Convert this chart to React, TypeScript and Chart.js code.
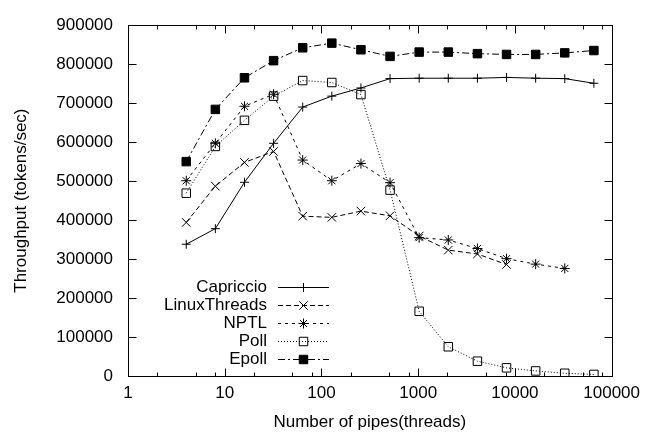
import React, { useEffect, useRef } from 'react';
import { Chart, registerables } from 'chart.js';
import { drawPoint } from 'chart.js/helpers';

Chart.register(...registerables);

// ---- data ----
const PIPES = [4, 8, 16, 32, 64, 128, 256, 512, 1024, 2048, 4096, 8192, 16384, 32768, 65536];
const CAPRICCIO = [338000, 378000, 497000, 597000, 690000, 718000, 739000, 763000, 764000, 764000, 764000, 766000, 764000, 763000, 751000];
const LINUX_THREADS = [394000, 487000, 548000, 576000, 410000, 407000, 423000, 411000, 359000, 323000, 313000, 286000];
const NPTL = [501000, 597000, 692000, 723000, 554000, 501000, 545000, 496000, 355000, 349000, 327000, 301000, 287000, 276000];
const POLL = [469000, 589000, 656000, 718000, 758000, 753000, 722000, 477000, 166000, 75000, 38000, 21000, 13000, 7000, 4000];
const EPOLL = [550000, 684000, 765000, 809000, 842000, 854000, 837000, 820000, 831000, 831000, 827000, 825000, 825000, 829000, 835000];

const SERIES_LABELS = ['Capriccio', 'LinuxThreads', 'NPTL', 'Poll', 'Epoll'];
const X_TICKS = [1, 10, 100, 1000, 10000, 100000];
const Y_TICKS = [0, 100000, 200000, 300000, 400000, 500000, 600000, 700000, 800000, 900000];
const X_MINOR_MULT = [2, 5, 8];

const FONT = '"Liberation Sans", Arial, Helvetica, sans-serif';

const toPoints = (vals: number[]) => vals.map((y, i) => ({ x: PIPES[i], y }));

const framePlugin = {
  id: 'frame',
  afterDatasetsDraw(chart: any) {
    const { ctx, chartArea: a, scales } = chart;
    const xs = scales.x;
    const ys = scales.y;
    const L = Math.round(a.left) + 0.5;
    const R = Math.round(a.right) + 0.5;
    const T = Math.round(a.top) + 0.5;
    const B = Math.round(a.bottom) + 0.5;
    ctx.save();
    ctx.strokeStyle = '#000';
    ctx.lineWidth = 1;
    ctx.setLineDash([]);
    ctx.beginPath();
    for (const v of Y_TICKS) {
      const y = Math.round(ys.getPixelForValue(v)) + 0.5;
      ctx.moveTo(L, y); ctx.lineTo(L + 8, y);
      ctx.moveTo(R, y); ctx.lineTo(R - 8, y);
    }
    for (const d of X_TICKS) {
      const x = Math.round(xs.getPixelForValue(d)) + 0.5;
      ctx.moveTo(x, B); ctx.lineTo(x, B - 8);
      ctx.moveTo(x, T); ctx.lineTo(x, T + 8);
      for (const m of X_MINOR_MULT) {
        const v = d * m;
        if (v >= 100000) continue;
        const xm = Math.round(xs.getPixelForValue(v)) + 0.5;
        ctx.moveTo(xm, B); ctx.lineTo(xm, B - 4);
        ctx.moveTo(xm, T); ctx.lineTo(xm, T + 4);
      }
    }
    ctx.stroke();
    ctx.strokeRect(L, T, R - L, B - T);
    ctx.restore();
  },
};

const legendPlugin = {
  id: 'customLegend',
  afterDraw(chart: any) {
    const { ctx } = chart;
    ctx.save();
    ctx.font = `17px ${FONT}`;
    ctx.fillStyle = '#000';
    ctx.textAlign = 'right';
    ctx.textBaseline = 'middle';
    chart.data.datasets.forEach((ds: any, i: number) => {
      const y = 287 + i * 18;
      ctx.fillStyle = '#000';
      ctx.fillText(ds.label, 267, y);
      ctx.save();
      ctx.strokeStyle = '#000';
      ctx.lineWidth = 1;
      ctx.setLineDash(ds.borderDash || []);
      ctx.beginPath();
      ctx.moveTo(278, y + 0.5);
      ctx.lineTo(329, y + 0.5);
      ctx.stroke();
      ctx.setLineDash([]);
      ctx.fillStyle = ds.pointBackgroundColor;
      ctx.strokeStyle = '#000';
      ctx.lineWidth = 1;
      drawPoint(ctx, { pointStyle: ds.pointStyle, radius: ds.pointRadius, rotation: 0, borderWidth: 1 } as any, 303.5, y + 0.5);
      ctx.restore();
    });
    ctx.restore();
  },
};

export default function App() {
  const ref = useRef<HTMLCanvasElement>(null);
  useEffect(() => {
    if (!ref.current) return;
    Chart.defaults.font.family = FONT;
    Chart.defaults.font.size = 17;
    Chart.defaults.color = '#000';
    const common = { borderColor: '#000', borderWidth: 1, pointBorderColor: '#000', pointBorderWidth: 1, fill: false, tension: 0 };
    const chart = new Chart(ref.current, {
      type: 'line',
      data: {
        datasets: [
          { ...common, label: SERIES_LABELS[0], data: toPoints(CAPRICCIO), borderDash: [], pointStyle: 'cross', pointRadius: 4.5, pointBackgroundColor: 'rgba(0,0,0,0)' },
          { ...common, label: SERIES_LABELS[1], data: toPoints(LINUX_THREADS), borderDash: [5, 3], pointStyle: 'crossRot', pointRadius: 6, pointBackgroundColor: 'rgba(0,0,0,0)' },
          { ...common, label: SERIES_LABELS[2], data: toPoints(NPTL), borderDash: [3, 4], pointStyle: 'star', pointRadius: 5, pointBackgroundColor: 'rgba(0,0,0,0)' },
          { ...common, label: SERIES_LABELS[3], data: toPoints(POLL), borderDash: [1, 2], pointStyle: 'rect', pointRadius: 6, pointBackgroundColor: 'rgba(0,0,0,0)' },
          { ...common, label: SERIES_LABELS[4], data: toPoints(EPOLL), borderDash: [7, 3, 2, 3], pointStyle: 'rect', pointRadius: 6, pointBackgroundColor: '#000' },
        ] as any,
      },
      options: {
        animation: false,
        responsive: false,
        layout: { padding: { top: 14, right: 30, left: 0, bottom: 0 } },
        plugins: { legend: { display: false }, tooltip: { enabled: false } },
        scales: {
          x: {
            type: 'logarithmic',
            min: 1,
            max: 100000,
            position: 'bottom',
            grid: { display: false, drawTicks: false },
            border: { display: false },
            ticks: { autoSkip: false, maxRotation: 0, padding: 7, color: '#000', callback: (v: any) => String(v) },
            afterBuildTicks: (s: any) => { s.ticks = X_TICKS.map((v) => ({ value: v })); },
            afterFit: (s: any) => { s.height = 59; },
            title: { display: true, text: 'Number of pipes(threads)', padding: 2, color: '#000' },
          } as any,
          y: {
            type: 'linear',
            min: 0,
            max: 900000,
            grid: { display: false, drawTicks: false },
            border: { display: false },
            ticks: { stepSize: 100000, padding: 15, color: '#000', callback: (v: any) => String(v) },
            afterBuildTicks: (s: any) => { s.ticks = Y_TICKS.map((v) => ({ value: v })); },
            afterFit: (s: any) => { s.width = 128; },
            title: { display: true, text: 'Throughput (tokens/sec)', padding: 11, color: '#000' },
          } as any,
        },
      },
      plugins: [framePlugin, legendPlugin],
    });
    return () => chart.destroy();
  }, []);
  return (
    <div style={{ position: 'absolute', left: 0, top: 0, width: 665, height: 435, background: '#fff' }}>
      <canvas ref={ref} width={647} height={435} style={{ display: 'block' }} />
    </div>
  );
}
